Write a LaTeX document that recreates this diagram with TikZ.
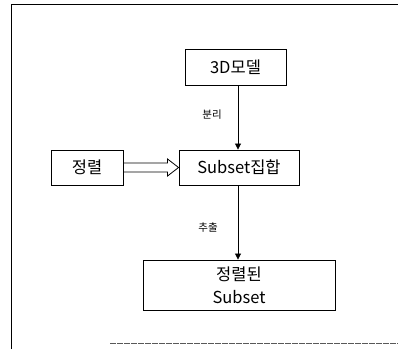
\documentclass[tikz,border=0pt]{standalone}
\usepackage{fontspec}
\setmainfont{Noto Sans CJK KR}
\usetikzlibrary{arrows.meta,calc}
\begin{document}
\begin{tikzpicture}[x=1pt,y=-1pt,
  box/.style={draw,line width=0.9pt,inner sep=0pt,font=\fontsize{16.5}{18}\selectfont},
  lbl/.style={font=\fontsize{10.5}{12}\selectfont},
  conn/.style={line width=0.8pt,-{Triangle[length=6pt,width=6pt]}}]
\useasboundingbox (0,0) rectangle (398,349);
\draw[line width=0.9pt] (11.5,349) -- (11.5,4) -- (398,4);
\draw[line width=0.7pt,gray!70!black,dash pattern=on 6pt off 1pt] (110,343) -- (398,343);
\node[box,minimum width=101pt,minimum height=36pt] (model) at (235.5,67) {3D모델};
\node[box,minimum width=120pt,minimum height=35pt] (sub) at (239,167.5) {Subset집합};
\node[box,minimum width=72pt,minimum height=35pt] (sort) at (87,167.5) {정렬};
\node[box,minimum width=192pt,minimum height=50pt,align=center,font=\fontsize{16.5}{23}\selectfont] (res) at (239,285) {정렬된\\Subset};
\draw[conn] (model.south -| 238,0) -- (sub.north -| 238,0);
\draw[conn] (sub.south -| 238,0) -- (res.north -| 238,0);
\node[lbl] (l1) at (212,115) {분리};
\node[lbl] (l2) at (208,228) {추출};
\draw[line width=0.8pt,line join=miter]
  ($(sort.east)+(0,-4.5)$) -- ($(sub.west)+(-11,-4.5)$) -- ($(sub.west)+(-11,-8.5)$) -- (sub.west)
  -- ($(sub.west)+(-11,8.5)$) -- ($(sub.west)+(-11,4.5)$) -- ($(sort.east)+(0,4.5)$);
\end{tikzpicture}
\end{document}
